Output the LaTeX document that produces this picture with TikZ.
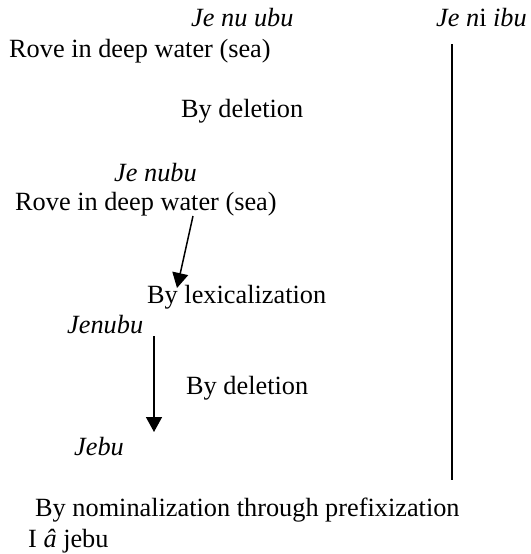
\documentclass[tikz,border=0pt]{standalone}
\usepackage{fontspec}
\setmainfont{Liberation Serif}
\usetikzlibrary{arrows.meta}
\begin{document}
\begin{tikzpicture}[x=1pt,y=-1pt,
  lbl/.style={anchor=base west,inner sep=0pt,font=\fontsize{26.3}{30}\selectfont},
  conn/.style={line width=1.5pt},
  arr/.style={line width=1.5pt,-{Triangle[width=16pt,length=15pt]}}]
\useasboundingbox (0,0) rectangle (530,554);
\node[lbl] (jenuubu) at (191,26) {\textit{Je nu ubu}};
\node[lbl] (jeniibu) at (436,26) {\textit{Je n}i \textit{ibu}};
\node[lbl] (rove1) at (9,57) {Rove in deep water (sea)};
\node[lbl] (del1) at (181,117) {By deletion};
\node[lbl] (jenubu) at (114,181) {\textit{Je nubu}};
\node[lbl] (rove2) at (15,210) {Rove in deep water (sea)};
\node[lbl] (lex) at (147,303) {By lexicalization};
\node[lbl] (jenubu2) at (67,333) {\textit{Jenubu}};
\node[lbl] (del2) at (186,394) {By deletion};
\node[lbl] (jebu) at (74,455) {\textit{Jebu}};
\node[lbl] (nom) at (35,516) {By nominalization through prefixization};
\node[lbl] (iajebu) at (28,547) {I \textit{â} jebu};
\coordinate (vtop) at (452,44);
\coordinate (vbot) at (452,480);
\coordinate (a1s) at (193,216);
\coordinate (a1e) at (177,288);
\coordinate (a2s) at (154,336);
\coordinate (a2e) at (154,432);
\draw[conn] (vtop) -- (vbot);
\draw[arr] (a1s) -- (a1e);
\draw[arr] (a2s) -- (a2e);
\end{tikzpicture}
\end{document}
